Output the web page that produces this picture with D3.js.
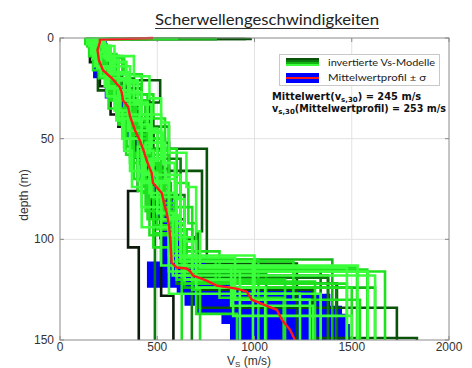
<!DOCTYPE html>
<html>
<head>
<meta charset="utf-8">
<script src="https://cdn.jsdelivr.net/npm/d3@7"></script>
<style>
  body { margin: 0; background: #fff; }
  svg { display: block; }
</style>
</head>
<body>
<div id="chart"></div>
<script>
// ticks
const vsTicks = [0, 500, 1000, 1500, 2000];
const depthTicks = [0, 50, 100, 150];

// inverted Vs models: layer bottom depths (m) and layer velocities (m/s)
const modelDepths = [
  [0.5, 3, 9, 21, 32, 55, 112, 150],
  [0.5, 3, 8, 18, 26, 29, 50, 70, 95, 122, 150],
  [0.5, 3, 9, 21, 32, 45, 65, 90, 118, 150],
  [0.5, 4, 12, 25, 38, 52, 66, 96, 134, 150],
  [0.5, 3, 10, 20, 30, 44, 60, 80, 104, 125, 149, 150],
  [0.5, 3, 8, 17, 29, 42, 58, 80, 150],
  [0.5, 3, 9, 20, 31, 44, 60, 78, 99, 114, 150],
  [0.5, 4, 10, 20, 33, 50, 66, 86, 122, 150],
  [0.5, 3, 10, 20, 32, 45, 60, 78, 100, 119, 150],
  [0.5, 4, 11, 22, 34, 48, 64, 86, 112, 150],
  [0.5, 4, 10, 19, 30, 44, 60, 78, 100, 117, 150],
  [0.5, 3, 8, 17, 28, 40, 55, 72, 93, 124, 150],
  [0.5, 3, 9, 18, 28, 40, 54, 70, 88, 110, 150],
  [0.5, 3, 8, 15, 24, 36, 50, 66, 84, 113, 150],
  [0.5, 4, 10, 18, 28, 40, 55, 72, 92, 115, 150],
  [0.5, 2, 7, 14, 26, 38, 52, 68, 88, 118, 150],
  [0.5, 5, 11, 20, 31, 44, 58, 75, 95, 110, 124, 150],
  [0.5, 3, 9, 17, 27, 39, 54, 70, 90, 116, 150],
  [0.5, 4, 9, 19, 30, 42, 57, 74, 96, 114, 150],
  [0.5, 3, 8, 16, 25, 35, 47, 62, 80, 104, 121, 150],
  [0.5, 4, 11, 21, 33, 46, 60, 77, 98, 127, 150],
  [0.5, 4, 10, 19, 30, 43, 58, 76, 98, 150],
  [0.5, 3, 9, 18, 28, 41, 56, 73, 95, 125, 150],
  [0.5, 3, 9, 17, 27, 38, 52, 70, 92, 120, 138, 150],
  [0.5, 4, 10, 19, 29, 41, 56, 74, 94, 116, 150],
  [0.5, 3, 8, 16, 26, 37, 50, 66, 86, 110, 150],
  [0.5, 5, 12, 22, 33, 47, 62, 80, 101, 124, 150],
  [0.5, 3, 10, 19, 30, 43, 59, 77, 97, 120, 150],
  [0.5, 4, 9, 18, 28, 40, 54, 71, 90, 109, 130, 150],
  [0.5, 3, 9, 20, 31, 44, 60, 77, 96, 114, 150],
  [0.5, 4, 11, 21, 32, 45, 61, 79, 99, 116, 150],
  [0.5, 4, 10, 20, 30, 42, 57, 74, 93, 111, 130, 150],
  [0.5, 3, 9, 18, 29, 41, 56, 72, 90, 108, 127, 150],
  [0.5, 4, 12, 23, 35, 50, 66, 84, 104, 122, 150],
  [0.5, 3, 8, 15, 25, 36, 50, 67, 87, 113, 133, 150],
  [0.5, 3, 9, 17, 27, 39, 53, 70, 91, 118, 137, 150],
  [0.5, 4, 10, 20, 31, 43, 57, 72, 89, 111, 150],
  [0.5, 3, 7, 14, 24, 35, 48, 63, 82, 106, 129, 150],
  [0.5, 3, 12, 24, 38, 54, 76, 104, 150],
  [0.5, 5, 15, 28, 44, 62, 89, 128, 150]
];
const modelVs = [
  [950, 150, 180, 260, 330, 420, 755, 1218],
  [160, 150, 170, 230, 195, 280, 330, 450, 520, 600, 1424],
  [280, 160, 200, 260, 515, 400, 480, 560, 640, 1378],
  [980, 140, 180, 300, 420, 480, 560, 730, 710, 1732],
  [220, 170, 210, 270, 330, 390, 450, 520, 600, 680, 1300, 1835],
  [260, 160, 200, 260, 320, 380, 430, 470, 488],
  [240, 180, 220, 300, 380, 460, 560, 620, 640, 700, 1340],
  [800, 170, 210, 280, 340, 400, 470, 540, 600, 1420],
  [450, 160, 200, 300, 380, 440, 500, 560, 620, 700, 1378],
  [190, 180, 210, 280, 340, 400, 460, 530, 600, 678],
  [800, 160, 190, 250, 310, 370, 430, 500, 560, 640, 1060],
  [270, 170, 200, 240, 310, 370, 440, 500, 570, 640, 1620],
  [230, 170, 200, 250, 300, 360, 420, 460, 520, 600, 1400],
  [240, 140, 160, 190, 230, 280, 320, 360, 420, 520, 1530],
  [200, 200, 260, 330, 420, 480, 540, 600, 660, 700, 1580],
  [350, 150, 220, 180, 360, 300, 520, 440, 620, 580, 1620],
  [180, 190, 250, 300, 260, 440, 380, 560, 500, 650, 800, 1500],
  [600, 130, 150, 200, 250, 290, 330, 380, 450, 600, 1671],
  [210, 230, 280, 380, 460, 520, 560, 650, 700, 720, 1475],
  [260, 140, 200, 170, 300, 250, 420, 360, 540, 480, 680, 1311],
  [190, 180, 250, 300, 400, 350, 520, 460, 600, 560, 1234],
  [230, 160, 180, 220, 260, 300, 340, 400, 460, 626],
  [200, 190, 240, 320, 280, 450, 400, 560, 520, 680, 720],
  [230, 170, 230, 270, 350, 420, 470, 540, 600, 640, 890, 1501],
  [210, 150, 170, 210, 240, 290, 330, 370, 420, 560, 925],
  [240, 160, 210, 290, 240, 380, 340, 500, 440, 600, 1020],
  [200, 220, 260, 340, 400, 470, 530, 590, 640, 700, 1055],
  [230, 170, 190, 230, 270, 310, 360, 420, 480, 600, 1157],
  [190, 190, 230, 280, 360, 300, 470, 400, 560, 620, 900, 1285],
  [260, 160, 200, 260, 330, 390, 450, 520, 590, 650, 1527],
  [220, 200, 240, 300, 380, 450, 500, 470, 620, 680, 1583],
  [200, 140, 180, 200, 280, 330, 370, 430, 480, 580, 1200, 1542],
  [210, 180, 200, 260, 300, 360, 420, 480, 520, 560, 1000, 1340],
  [230, 190, 260, 340, 420, 380, 540, 500, 680, 640, 1475],
  [250, 150, 180, 210, 250, 310, 360, 420, 500, 600, 880, 1300],
  [190, 170, 200, 240, 290, 350, 410, 470, 530, 600, 700, 910],
  [220, 180, 230, 260, 330, 410, 460, 430, 560, 620, 992],
  [210, 160, 190, 230, 280, 330, 390, 450, 510, 590, 820, 1150],
  [200, 140, 154, 205, 260, 340, 400, 350, 405],
  [180, 150, 190, 240, 300, 400, 470, 520, 583]
];
// 0 = almost black ... 5 = lime
const modelShade = [1, 1, 1, 1, 1, 2, 2, 2, 2, 2, 3, 3, 3,
  5, 4, 5, 4, 4, 5, 4, 5, 4, 4, 5, 5, 4, 5, 4, 5, 4, 5, 4, 5, 4, 5, 4, 5, 4, 0, 0];
const shadeColors = ["#0b1a0b", "#0a520a", "#0c7a0c", "#14b414", "#1fe21f", "#3cff3c"];

// mean profile (red)
const meanDepth = [0, 0.8, 2, 6, 11, 16, 20, 24.5, 27, 31, 34, 39, 46, 51, 56, 61, 67, 72, 77, 82,
  87, 93, 99, 105, 111.5, 114, 114.5, 116, 118, 120.5, 123, 124.5, 126, 130, 133, 135, 140, 145, 150];
const meanVs = [478, 205, 205, 193, 200, 221, 267, 308, 317, 324, 350, 360, 386, 411, 430, 446, 471, 478, 523, 535,
  549, 560, 566, 570, 574, 600, 651, 670, 684, 754, 805, 908, 960, 986, 1063, 1115, 1141, 1183, 1208];

// mean +- sigma (blue)
const sigmaDepth = [0, 5, 10, 20, 30, 40, 50, 60, 70, 80, 90, 100, 108, 111, 120, 124, 127, 133, 137, 142, 150];
const sigmaLow = [170, 160, 170, 230, 290, 330, 370, 410, 440, 490, 510, 520, 520, 447, 447, 600, 640, 700, 830, 874, 880];
const sigmaHigh = [240, 230, 240, 300, 360, 400, 450, 490, 520, 580, 610, 620, 640, 860, 900, 1300, 1390, 1450, 1475, 1490, 1500];

const W = 472, H = 368;
const m = { left: 60, right: 449, top: 38, bottom: 340 };

const svg = d3.select('#chart').append('svg')
  .attr('width', W).attr('height', H);

const x = d3.scaleLinear().domain([0, 2000]).range([m.left, m.right]);
const y = d3.scaleLinear().domain([0, 150]).range([m.top, m.bottom]);

svg.append('defs').append('clipPath').attr('id', 'plot')
  .append('rect')
  .attr('x', m.left).attr('y', m.top - 2)
  .attr('width', m.right - m.left).attr('height', m.bottom - m.top + 2);

// grid
const grid = svg.append('g').attr('stroke', '#e2e2e2').attr('stroke-width', 1);
grid.selectAll('.gx').data(vsTicks.slice(1, -1)).enter().append('line')
  .attr('x1', d => x(d)).attr('x2', d => x(d)).attr('y1', m.top).attr('y2', m.bottom);
grid.selectAll('.gy').data(depthTicks.slice(1, -1)).enter().append('line')
  .attr('y1', d => y(d)).attr('y2', d => y(d)).attr('x1', m.left).attr('x2', m.right);

const plot = svg.append('g').attr('clip-path', 'url(#plot)');

// sigma band
const band = d3.area()
  .y((d, i) => y(sigmaDepth[i]))
  .x0((d, i) => x(sigmaLow[i]))
  .x1((d, i) => x(sigmaHigh[i]))
  .curve(d3.curveStepBefore);
plot.append('path')
  .attr('d', band(sigmaDepth))
  .attr('fill', '#0000ff');

// step profiles
function stepPoints(depths, vs) {
  const pts = [];
  let d0 = 0;
  depths.forEach((d, i) => {
    pts.push([vs[i], d0]);
    pts.push([vs[i], d]);
    d0 = d;
  });
  return pts;
}
const stepLine = d3.line().x(p => x(p[0])).y(p => y(p[1]));

// darkest first, brightest on top
const order = d3.range(modelDepths.length).sort((a, b) => modelShade[a] - modelShade[b]);
plot.selectAll('.model')
  .data(order)
  .enter()
  .append('path')
    .attr('d', i => stepLine(stepPoints(modelDepths[i], modelVs[i])))
    .attr('fill', 'none')
    .attr('stroke', i => shadeColors[modelShade[i]])
    .attr('stroke-width', 2.6)
    .attr('stroke-linejoin', 'miter');

// mean profile
const meanLine = d3.line().x((d, i) => x(meanVs[i])).y((d, i) => y(meanDepth[i]));
plot.append('path')
  .attr('d', meanLine(meanDepth))
  .attr('fill', 'none')
  .attr('stroke', '#ff1a1a')
  .attr('stroke-width', 2.4);

// frame + ticks
svg.append('rect')
  .attr('x', m.left).attr('y', m.top)
  .attr('width', m.right - m.left).attr('height', m.bottom - m.top)
  .attr('fill', 'none').attr('stroke', '#8a8a8a').attr('stroke-width', 1);

const tickG = svg.append('g').attr('stroke', '#8a8a8a');
vsTicks.forEach(t => {
  tickG.append('line').attr('x1', x(t)).attr('x2', x(t)).attr('y1', m.bottom).attr('y2', m.bottom - 4);
  tickG.append('line').attr('x1', x(t)).attr('x2', x(t)).attr('y1', m.top).attr('y2', m.top + 4);
});
depthTicks.forEach(t => {
  tickG.append('line').attr('y1', y(t)).attr('y2', y(t)).attr('x1', m.left).attr('x2', m.left + 4);
  tickG.append('line').attr('y1', y(t)).attr('y2', y(t)).attr('x1', m.right).attr('x2', m.right - 4);
});

const labelFont = '"Liberation Sans", Arial, sans-serif';
svg.append('g').selectAll('text').data(vsTicks).enter().append('text')
  .attr('x', d => x(d)).attr('y', 351)
  .attr('text-anchor', 'middle')
  .attr('font-family', labelFont).attr('font-size', 12).attr('fill', '#333')
  .text(d => d);
svg.append('g').selectAll('text').data(depthTicks).enter().append('text')
  .attr('x', 54).attr('y', d => y(d) + 4)
  .attr('text-anchor', 'end')
  .attr('font-family', labelFont).attr('font-size', 12).attr('fill', '#333')
  .text(d => d);

// axis titles
svg.append('text')
  .attr('transform', 'translate(28,195) rotate(-90)')
  .attr('text-anchor', 'middle')
  .attr('font-family', labelFont).attr('font-size', 12).attr('fill', '#333')
  .text('depth (m)');
const xl = svg.append('text')
  .attr('x', 227).attr('y', 365)
  .attr('font-family', labelFont).attr('font-size', 12).attr('fill', '#333');
xl.append('tspan').text('V');
xl.append('tspan').attr('dy', 2).attr('font-size', 8).text('S');
xl.append('tspan').attr('dy', -2).text(' (m/s)');

// title
const titleFont = 'Lato, "Open Sans", sans-serif';
svg.append('text')
  .attr('x', 155).attr('y', 25)
  .attr('font-family', titleFont).attr('font-size', 15).attr('fill', '#222')
  .attr('textLength', 224).attr('lengthAdjust', 'spacingAndGlyphs')
  .text('Scherwellengeschwindigkeiten');
svg.append('line')
  .attr('x1', 155).attr('x2', 379).attr('y1', 28.5).attr('y2', 28.5)
  .attr('stroke', '#333').attr('stroke-width', 1);

// legend
const lg = svg.append('g');
lg.append('rect')
  .attr('x', 279.5).attr('y', 54.5).attr('width', 160).attr('height', 31)
  .attr('fill', '#fff').attr('stroke', '#c8c8c8');
['#0a520a', '#0c7a0c', '#14b414', '#3cff3c'].forEach((c, i) => {
  lg.append('rect')
    .attr('x', 286).attr('y', 58 + i * 2).attr('width', 33).attr('height', 2)
    .attr('fill', c);
});
lg.append('rect').attr('x', 286).attr('y', 73).attr('width', 33).attr('height', 10).attr('fill', '#0000ff');
lg.append('rect').attr('x', 286).attr('y', 77).attr('width', 33).attr('height', 2).attr('fill', '#ff1a1a');
lg.append('text')
  .attr('x', 328).attr('y', 66)
  .attr('font-family', titleFont).attr('font-size', 10).attr('fill', '#222')
  .attr('textLength', 107).attr('lengthAdjust', 'spacingAndGlyphs')
  .text('invertierte Vs-Modelle');
lg.append('text')
  .attr('x', 328).attr('y', 81)
  .attr('font-family', titleFont).attr('font-size', 10).attr('fill', '#222')
  .attr('textLength', 98).attr('lengthAdjust', 'spacingAndGlyphs')
  .text('Mittelwertprofil \u00b1 \u03c3');

// vs30 annotations
const noteFont = '"DejaVu Sans", sans-serif';
const a1 = svg.append('text')
  .attr('x', 272).attr('y', 100)
  .attr('font-family', noteFont).attr('font-size', 9.9).attr('font-weight', 'bold').attr('fill', '#111');
a1.append('tspan').text('Mittelwert(v');
a1.append('tspan').attr('dy', 2).attr('font-size', 7).text('s,30');
a1.append('tspan').attr('dy', -2).text(') = 245 m/s');
const a2 = svg.append('text')
  .attr('x', 272).attr('y', 112)
  .attr('font-family', noteFont).attr('font-size', 9.6).attr('font-weight', 'bold').attr('fill', '#111');
a2.append('tspan').text('v');
a2.append('tspan').attr('dy', 2).attr('font-size', 7).text('s,30');
a2.append('tspan').attr('dy', -2).text('(Mittelwertprofil) = 253 m/s');
</script>
</body>
</html>
